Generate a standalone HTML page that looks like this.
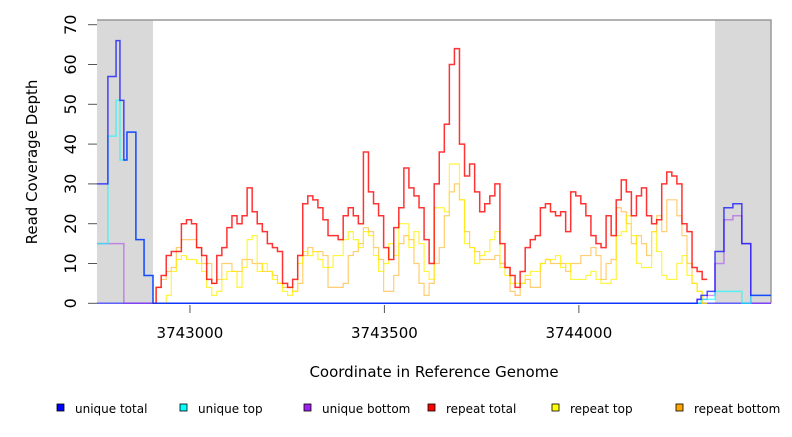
<!DOCTYPE html>
<html><head><meta charset="utf-8"><style>
body{margin:0;background:#fff;}
svg text{font-family:"DejaVu Sans","Liberation Sans",sans-serif;}
</style></head><body>
<svg id="chart" width="792" height="432" viewBox="0 0 792 432" xmlns="http://www.w3.org/2000/svg">
<g id="bg"></g><g id="marks"></g><g id="axes"></g><g id="legend"></g>
</svg>
<script>
// Data
const binStart = 3742900;
const binWidth = 13;
const repeatTotal = [0,4,7,12,13,13,20,21,20,14, 12,6,5,12,14,19,22,20,22,29, 23,20,18,15,14,13,5,4,6,12, 25,27,26,24,21,17,17,16,22,24, 22,20,38,28,25,22,14,11,19,24, 34,29,27,24,16,10,30,38,45,60, 64,40,32,35,28,23,25,27,30,15, 9,7,4,8,14,16,17,24,25,23, 22,23,18,28,27,25,22,17,15,14, 22,17,26,31,28,22,27,29,22,20, 21,30,33,32,30,20,18,9,8,6];
const repeatTop = [0,0,0,2,8,11,12,11,11,10, 8,4,2,3,6,8,8,4,9,16, 17,8,10,8,6,5,3,2,3,10, 13,12,13,11,9,9,12,12,16,18, 16,14,18,17,12,8,10,15,12,20, 20,14,18,15,8,6,24,24,23,35, 35,26,15,14,10,12,13,16,18,9, 7,5,5,5,7,8,8,10,11,11, 12,9,10,6,6,6,7,8,6,5, 5,6,17,18,22,17,10,9,9,18, 13,7,6,6,10,12,7,5,3,0];
const repeatBottom = [0,4,6,8,9,14,16,16,16,14, 10,10,5,6,10,10,8,8,11,11, 10,10,8,8,7,5,4,4,3,5, 12,14,13,13,12,4,4,4,5,12, 13,15,19,18,14,11,3,3,7,15, 17,16,10,5,2,5,10,14,22,28, 30,26,18,14,13,11,11,11,12,10, 9,3,2,5,6,4,4,10,11,10, 10,10,8,10,10,12,12,14,12,6, 10,11,24,23,20,15,17,15,12,18, 22,18,26,26,22,17,10,5,3,0];
const uniquePos = [3742761,3742789,3742810,3742820,3742830,3742838,3742861,3742882,3742905,3744304,3744314,3744330,3744350,3744373,3744396,3744419,3744442];
const uniqueTotal = [30,57,66,51,36,43,16,7,0,1,2,3,13,24,25,15,2];
const uniqueTop = [15,42,51,36,36,43,16,7,0,0,1,1,3,3,3,0,2];
const uniqueBottom = [15,15,15,15,0,0,0,0,0,1,1,2,10,21,22,15,0];
const xTicks = [3743000,3743500,3744000];
const yTicks = [0,10,20,30,40,50,60,70];
const xMin = 3742761, xMax = 3744494;
const grayLeft = [3742761,3742905], grayRight = [3744350,3744494];

const NS="http://www.w3.org/2000/svg";
const L=97,R=771,T=20,B=303.3;
function sx(v){return L+(v-xMin)/(xMax-xMin)*(R-L);}
function sy(v){return B-v*3.98;}
function mk(tag,attrs,parent){const e=document.createElementNS(NS,tag);for(const k in attrs)e.setAttribute(k,attrs[k]);parent.appendChild(e);return e;}
const bg=document.getElementById('bg'),marks=document.getElementById('marks'),axes=document.getElementById('axes'),legend=document.getElementById('legend');

let r=mk('rect',{x:sx(grayLeft[0]),y:T,width:sx(grayLeft[1])-sx(grayLeft[0]),height:B-T,fill:'#d9d9d9'},bg);


r=mk('rect',{x:sx(grayRight[0]),y:T,width:sx(grayRight[1])-sx(grayRight[0]),height:B-T,fill:'#d9d9d9'},bg);


let fr=mk('path',{d:`M${L} ${T}H${R}V${B}`,stroke:'#999',fill:'none','stroke-width':1.5},bg);



function binPath(vals){
  let d=`M${sx(binStart)} ${sy(0)}`;
  for(let i=0;i<vals.length;i++){const x0=sx(binStart+i*binWidth),x1=sx(binStart+(i+1)*binWidth);d+=`L${x0} ${sy(vals[i])}L${x1} ${sy(vals[i])}`;}
  return d;
}
function segPath(vals){
  let d='';
  for(let i=0;i<uniquePos.length;i++){const x0=sx(uniquePos[i]),x1=sx(i+1<uniquePos.length?uniquePos[i+1]:xMax);d+=(i?'L':'M')+`${x0} ${sy(vals[i])}L${x1} ${sy(vals[i])}`;}
  return d;
}
let p;
p=mk('path',{d:`M${L} ${sy(0)}H${R}`,stroke:'rgba(60,60,255,0.8)','stroke-width':1.5,fill:'none'},marks);


p=mk('path',{d:binPath(repeatBottom),stroke:'rgba(255,165,0,0.55)','stroke-width':1.2,fill:'none'},marks);


p=mk('path',{d:binPath(repeatTop),stroke:'rgba(255,240,0,0.75)','stroke-width':1.2,fill:'none'},marks);


p=mk('path',{d:binPath(repeatTotal),stroke:'rgba(255,0,0,0.8)','stroke-width':1.5,fill:'none'},marks);


p=mk('path',{d:segPath(uniqueBottom),stroke:'rgba(160,32,240,0.45)','stroke-width':1.5,fill:'none'},marks);


p=mk('path',{d:segPath(uniqueTop),stroke:'rgba(0,255,255,0.6)','stroke-width':1.5,fill:'none'},marks);


p=mk('path',{d:segPath(uniqueTotal),stroke:'rgba(0,0,255,0.7)','stroke-width':1.5,fill:'none'},marks);



yTicks.forEach(v=>{
  const t=mk('line',{x1:88,x2:L,y1:sy(v),y2:sy(v),stroke:'#555','stroke-width':1},axes);
  
  
  const y=sy(v);
  const tx=mk('text',{x:0,y:0,transform:`translate(76 ${y}) rotate(-90)`,'text-anchor':'middle','font-size':16,fill:'#000'},axes);
  tx.textContent=v;
  
  
});
xTicks.forEach(v=>{
  const t=mk('line',{x1:sx(v),x2:sx(v),y1:305,y2:313,stroke:'#555','stroke-width':1},axes);
  
  
  const tx=mk('text',{x:sx(v),y:338,'text-anchor':'middle','font-size':15,fill:'#000'},axes);
  tx.textContent=v;
  
  
});
let yt=mk('text',{x:0,y:0,transform:'translate(37 162) rotate(-90)','text-anchor':'middle','font-size':15},axes);
yt.textContent='Read Coverage Depth';


let xt=mk('text',{x:434,y:377,'text-anchor':'middle','font-size':15},axes);
xt.textContent='Coordinate in Reference Genome';



const legNames=['unique total','unique top','unique bottom','repeat total','repeat top','repeat bottom'];
const legColors=['#0000ff','#00ffff','#a020f0','#ff0000','#ffff00','#ffa500'];
const legX=[57,180,304,428,552,676];
legNames.forEach((n,i)=>{
  const g=mk('g',{},legend);
  
  
  mk('rect',{x:legX[i],y:404,width:7,height:7,fill:legColors[i],stroke:'#000','stroke-width':0.8},g);
  const t=mk('text',{x:legX[i]+18,y:413,'font-size':12},g);
  t.textContent=n;
});
</script>
</body></html>
